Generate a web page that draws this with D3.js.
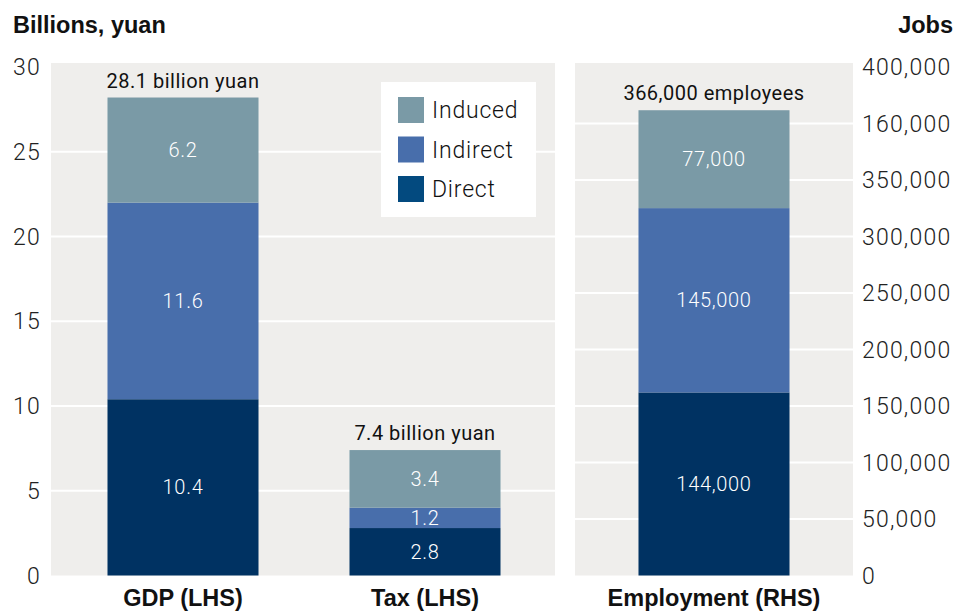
<!DOCTYPE html>
<html>
<head>
<meta charset="utf-8">
<script src="https://cdn.jsdelivr.net/npm/d3@7"></script>
<style>
  body { margin: 0; background: #ffffff; }
  svg { display: block; }
  text { font-family: Roboto, "Liberation Sans", Arial, sans-serif; }
  text.heading { font-family: "Liberation Sans", Arial, sans-serif; font-weight: 700; }
</style>
</head>
<body>
<svg id="chart" width="958" height="611"></svg>
<script>
// Economic contribution: GDP and tax (billions of yuan, left axis), employment (jobs, right axis)
const seriesNames = ["Direct", "Indirect", "Induced"];
const leftCategories = ["GDP (LHS)", "Tax (LHS)"];
const directValues = [10.4, 2.8];
const indirectValues = [11.6, 1.2];
const inducedValues = [6.2, 3.4];
const leftTotalLabels = ["28.1 billion yuan", "7.4 billion yuan"];
const leftTicks = [0, 5, 10, 15, 20, 25, 30];

const jobsCategories = ["Employment (RHS)"];
const jobsDirect = [144000];
const jobsIndirect = [145000];
const jobsInduced = [77000];
const jobsTotalLabels = ["366,000 employees"];
const jobsTickLabels = ["0", "50,000", "100,000", "150,000", "200,000", "250,000",
                        "300,000", "350,000", "160,000", "400,000"];

const barColors = { Direct: "#003262", Indirect: "#486eab", Induced: "#7a9aa6" };
const legendColors = { Induced: "#7a9aa6", Indirect: "#486eab", Direct: "#034a7f" };
const panelFill = "#efeeec";

const svg = d3.select("#chart");

const baseY = 575.5, topY = 67;
const yLeft = d3.scaleLinear().domain([0, 30]).range([baseY, topY]);
const yRight = d3.scaleLinear().domain([0, 400000]).range([baseY, topY]);

const xLeft = d3.scaleBand().domain(leftCategories).range([62, 546])
  .paddingInner(0.376).paddingOuter(0.188);
const xRight = d3.scaleBand().domain(jobsCategories).range([575, 853]).padding(0.296);

const leftRows = leftCategories.map((c, i) => ({
  category: c, Direct: directValues[i], Indirect: indirectValues[i], Induced: inducedValues[i],
  total: leftTotalLabels[i]
}));
const jobsRows = jobsCategories.map((c, i) => ({
  category: c, Direct: jobsDirect[i], Indirect: jobsIndirect[i], Induced: jobsInduced[i],
  total: jobsTotalLabels[i]
}));

const stack = d3.stack().keys(seriesNames);

// Panel backgrounds
svg.append("rect").attr("x", 51).attr("y", 63).attr("width", 504).attr("height", baseY - 63)
  .attr("fill", panelFill);
svg.append("rect").attr("x", 575).attr("y", 63).attr("width", 278).attr("height", baseY - 63)
  .attr("fill", panelFill);

// Gridlines
svg.append("g").selectAll("line")
  .data(leftTicks.filter(t => t > 0 && t < 30))
  .join("line")
  .attr("x1", 51).attr("x2", 555)
  .attr("y1", d => yLeft(d)).attr("y2", d => yLeft(d))
  .attr("stroke", "#ffffff").attr("stroke-width", 2);

const yJobsTicks = d3.scalePoint().domain(jobsTickLabels).range([baseY, topY]);
svg.append("g").selectAll("line")
  .data(jobsTickLabels.slice(1, -1))
  .join("line")
  .attr("x1", 575).attr("x2", 853)
  .attr("y1", d => yJobsTicks(d)).attr("y2", d => yJobsTicks(d))
  .attr("stroke", "#ffffff").attr("stroke-width", 2);

// Stacked bars
function drawStack(rows, x, y, fmt) {
  const layers = stack(rows);
  const g = svg.append("g");
  layers.forEach(layer => {
    const key = layer.key;
    g.append("g").selectAll("rect")
      .data(layer)
      .join("rect")
      .attr("x", d => x(d.data.category))
      .attr("width", x.bandwidth())
      .attr("y", d => y(d[1]))
      .attr("height", d => y(d[0]) - y(d[1]))
      .attr("fill", barColors[key]);
    g.append("g").selectAll("text")
      .data(layer)
      .join("text")
      .attr("x", d => x(d.data.category) + x.bandwidth() / 2)
      .attr("y", d => (y(d[0]) + y(d[1])) / 2)
      .attr("dy", "0.35em")
      .attr("text-anchor", "middle")
      .attr("fill", "#ffffff")
      .attr("font-size", 20)
      .attr("font-weight", 300)
      .attr("letter-spacing", 0.7)
      .text(d => fmt(d.data[key]));
  });
  const top = layers[layers.length - 1];
  g.append("g").selectAll("text")
    .data(top)
    .join("text")
    .attr("x", d => x(d.data.category) + x.bandwidth() / 2)
    .attr("y", d => y(d[1]) - 10)
    .attr("text-anchor", "middle")
    .attr("fill", "#111111")
    .attr("font-size", 20)
    .attr("font-weight", 400)
    .attr("letter-spacing", 0.5)
    .text(d => d.data.total);
  // Category labels under the panel
  g.append("g").selectAll("text")
    .data(rows)
    .join("text")
    .attr("class", "heading")
    .attr("x", d => x(d.category) + x.bandwidth() / 2)
    .attr("y", 606)
    .attr("text-anchor", "middle")
    .attr("fill", "#111111")
    .attr("font-size", 23.5)
    .text(d => d.category);
}

drawStack(leftRows, xLeft, yLeft, d3.format(".1f"));
drawStack(jobsRows, xRight, yRight, d3.format(","));

// Left axis labels
svg.append("g").selectAll("text")
  .data(leftTicks)
  .join("text")
  .attr("x", 41)
  .attr("y", d => yLeft(d))
  .attr("dy", "0.35em")
  .attr("text-anchor", "end")
  .attr("fill", "#222222")
  .attr("font-size", 23)
  .attr("font-weight", 300)
  .attr("letter-spacing", 1.2)
  .text(d => d);

// Right axis labels
svg.append("g").selectAll("text")
  .data(jobsTickLabels)
  .join("text")
  .attr("x", 862)
  .attr("y", d => yJobsTicks(d))
  .attr("dy", "0.35em")
  .attr("text-anchor", "start")
  .attr("fill", "#222222")
  .attr("font-size", 23)
  .attr("font-weight", 300)
  .attr("letter-spacing", 1.2)
  .text(d => d);

// Axis titles
svg.append("text").attr("class", "heading").attr("x", 13).attr("y", 33)
  .attr("font-size", 23.5).attr("fill", "#111111")
  .text("Billions, yuan");
svg.append("text").attr("class", "heading").attr("x", 953).attr("y", 33).attr("text-anchor", "end")
  .attr("font-size", 23.5).attr("fill", "#111111")
  .text("Jobs");

// Legend
const legendOrder = ["Induced", "Indirect", "Direct"];
const legend = svg.append("g");
legend.append("rect").attr("x", 381).attr("y", 82).attr("width", 155).attr("height", 135)
  .attr("fill", "#ffffff");
const legendY = d3.scalePoint().domain(legendOrder).range([110, 189]);
legend.selectAll("rect.swatch")
  .data(legendOrder)
  .join("rect")
  .attr("class", "swatch")
  .attr("x", 398).attr("y", d => legendY(d) - 13)
  .attr("width", 26).attr("height", 26)
  .attr("fill", d => legendColors[d]);
legend.selectAll("text")
  .data(legendOrder)
  .join("text")
  .attr("x", 432).attr("y", d => legendY(d))
  .attr("dy", "0.35em")
  .attr("font-size", 23)
  .attr("font-weight", 300)
  .attr("letter-spacing", 0.8)
  .attr("fill", "#111111")
  .text(d => d);
</script>
</body>
</html>
